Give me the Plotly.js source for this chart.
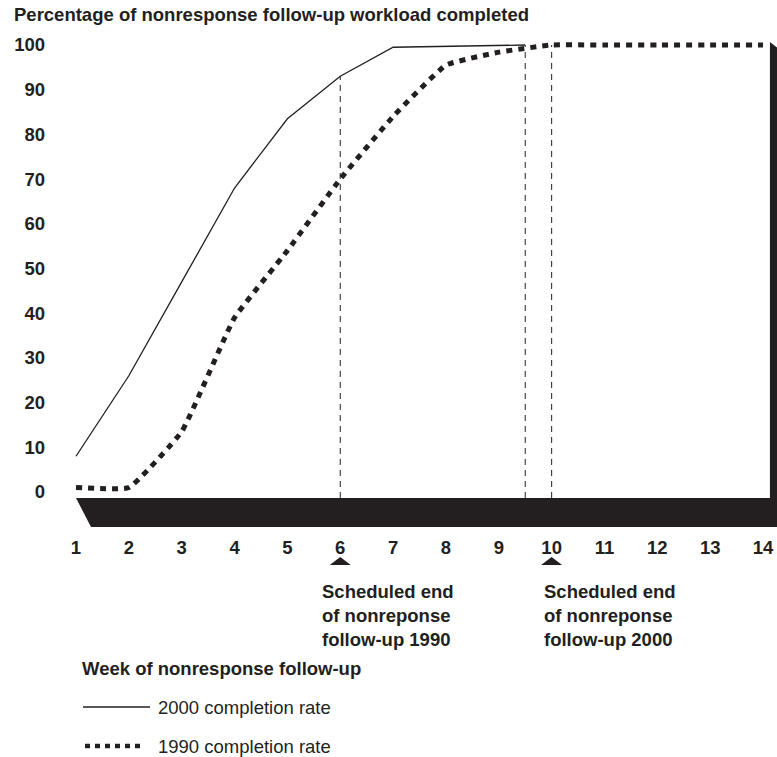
<!DOCTYPE html>
<html><head><meta charset="utf-8">
<script src="https://cdn.plot.ly/plotly-3.0.1.min.js"></script>
<style>html,body{margin:0;padding:0;background:#fff}#chart{width:777px;height:757px}</style>
</head><body><div id="chart"></div>
<script>
// ---- data ----
const weeks1990 = [1, 2, 3, 4, 5, 6, 7, 8, 9, 10, 11, 12, 13, 14];
const rate1990  = [1, 1, 13.5, 39, 54, 70, 84, 95.5, 98.4, 100, 100, 100, 100, 100];
const weeks2000 = [1, 2, 3, 4, 5, 6, 7, 9.5];
const rate2000  = [8, 26, 47, 68, 83.5, 93, 99.5, 100];
const xTickVals = [1, 2, 3, 4, 5, 6, 7, 8, 9, 10, 11, 12, 13, 14];
const yTickVals = [0, 10, 20, 30, 40, 50, 60, 70, 80, 90, 100];
const scheduledEndWeeks = [6, 10];
const scheduledEndLabels = [
  "Scheduled end<br>of nonreponse<br>follow-up 1990",
  "Scheduled end<br>of nonreponse<br>follow-up 2000"
];
const dropWeeks  = [6, 9.5, 10];
const dropSeries = ["2000", "2000", "1990"];
const seriesNames = ["2000 completion rate", "1990 completion rate"];
const titleText = "Percentage of nonresponse follow-up workload completed";
const xTitleText = "Week of nonresponse follow-up";

// ---- layout geometry ----
const W = 777, H = 757;
const M = {l: 46, r: 0, t: 35, b: 225};
const plotW = W - M.l - M.r, plotH = H - M.t - M.b;
const xRange = [0.4324, 14.264];
const yRange = [-8.95, 102.24];
const INK = "#231f20";
const FONT = "Liberation Sans, Arial, Helvetica, sans-serif";
const FS = 18.5;

const floorTop = -1.34, floorBottom = -7.83, floorSlantX = 1.284;
const barLeft = 14.13, barTopL = 100.7, barTopR = 98.9;

const pxX = px => (px - M.l) / plotW;          // pixel -> paper x
const pxY = py => (M.t + plotH - py) / plotH;  // pixel -> paper y
const dX = w => (w - xRange[0]) / (xRange[1] - xRange[0]); // data -> paper x

function valueAt(weeks, vals, w) {
  return vals[weeks.indexOf(w)];
}

const shapes = [];
// floor
shapes.push({type: "path", xref: "x", yref: "y", layer: "below",
  path: `M ${xTickVals[0]},${floorTop} L ${xRange[1] + 1},${floorTop} L ${xRange[1] + 1},${floorBottom} L ${floorSlantX},${floorBottom} Z`,
  fillcolor: INK, line: {width: 0}});
// back wall bar
shapes.push({type: "path", xref: "x", yref: "y", layer: "below",
  path: `M ${barLeft},${barTopL} L ${xRange[1] + 0.2},${barTopR - 1.4} L ${xRange[1] + 0.2},${floorTop} L ${barLeft},${floorTop} Z`,
  fillcolor: INK, line: {width: 0}});
// drop lines
dropWeeks.forEach((w, i) => {
  const top = dropSeries[i] === "2000" ? valueAt(weeks2000, rate2000, w) : valueAt(weeks1990, rate1990, w);
  shapes.push({type: "line", xref: "x", yref: "y", layer: "below",
    x0: w, x1: w, y0: floorTop, y1: top,
    line: {color: INK, width: 1, dash: "6px,5px"}});
});
// triangles under scheduled weeks
scheduledEndWeeks.forEach(w => {
  const cx = dX(w), hw = 10.5 / plotW;
  shapes.push({type: "path", xref: "paper", yref: "paper",
    path: `M ${cx - hw},${pxY(565)} L ${cx + hw},${pxY(565)} L ${cx},${pxY(557)} Z`,
    fillcolor: INK, line: {width: 0}});
});
// legend lines
shapes.push({type: "line", xref: "paper", yref: "paper", x0: pxX(83), x1: pxX(150), y0: pxY(707), y1: pxY(707),
  line: {color: INK, width: 1.3}});
shapes.push({type: "line", xref: "paper", yref: "paper", x0: pxX(85), x1: pxX(143), y0: pxY(746), y1: pxY(746),
  line: {color: INK, width: 4.5, dash: "5px,5px"}});

const annotations = [];
scheduledEndWeeks.forEach((w, i) => {
  annotations.push({xref: "x", yref: "paper", x: w, y: pxY(615), xanchor: "left", yanchor: "middle",
    xshift: i === 0 ? -20 : -10, align: "left", showarrow: false, text: scheduledEndLabels[i],
    font: {family: FONT, size: FS, color: INK, weight: "bold"}});
});
annotations.push({xref: "paper", yref: "paper", x: pxX(80), y: pxY(668), xanchor: "left", yanchor: "middle",
  showarrow: false, text: xTitleText, font: {family: FONT, size: FS, color: INK, weight: "bold"}});
annotations.push({xref: "paper", yref: "paper", x: pxX(156), y: pxY(707), xanchor: "left", yanchor: "middle",
  showarrow: false, text: seriesNames[0], font: {family: FONT, size: FS, color: INK}});
annotations.push({xref: "paper", yref: "paper", x: pxX(156), y: pxY(746), xanchor: "left", yanchor: "middle",
  showarrow: false, text: seriesNames[1], font: {family: FONT, size: FS, color: INK}});

const traces = [
  {x: weeks2000, y: rate2000, name: seriesNames[0], type: "scatter", mode: "lines",
   line: {color: INK, width: 1.3}, hoverinfo: "x+y"},
  {x: weeks1990, y: rate1990, name: seriesNames[1], type: "scatter", mode: "lines",
   line: {color: INK, width: 5, dash: "6px,6px", shape: "spline", smoothing: 0.35}, hoverinfo: "x+y"}
];

const layout = {
  width: W, height: H, margin: M, showlegend: false,
  paper_bgcolor: "#fff", plot_bgcolor: "#fff",
  font: {family: FONT, color: INK},
  title: {text: titleText, xref: "container", yref: "container", x: 14 / W, xanchor: "left",
          y: 1 - 15 / H, yanchor: "middle", font: {family: FONT, size: FS, color: INK, weight: "bold"}},
  xaxis: {range: xRange, tickvals: xTickVals, ticktext: xTickVals.map(String), showgrid: false, zeroline: false,
          showline: false, ticks: "", ticklabelstandoff: 2, tickfont: {family: FONT, size: FS, color: INK, weight: "bold"}, fixedrange: true},
  yaxis: {range: yRange, tickvals: yTickVals, ticktext: yTickVals.map(String), showgrid: false, zeroline: false,
          showline: false, ticks: "", tickfont: {family: FONT, size: FS, color: INK, weight: "bold"}, fixedrange: true},
  shapes: shapes, annotations: annotations
};

Plotly.newPlot("chart", traces, layout, {displayModeBar: false, staticPlot: true});
</script>
</body></html>
